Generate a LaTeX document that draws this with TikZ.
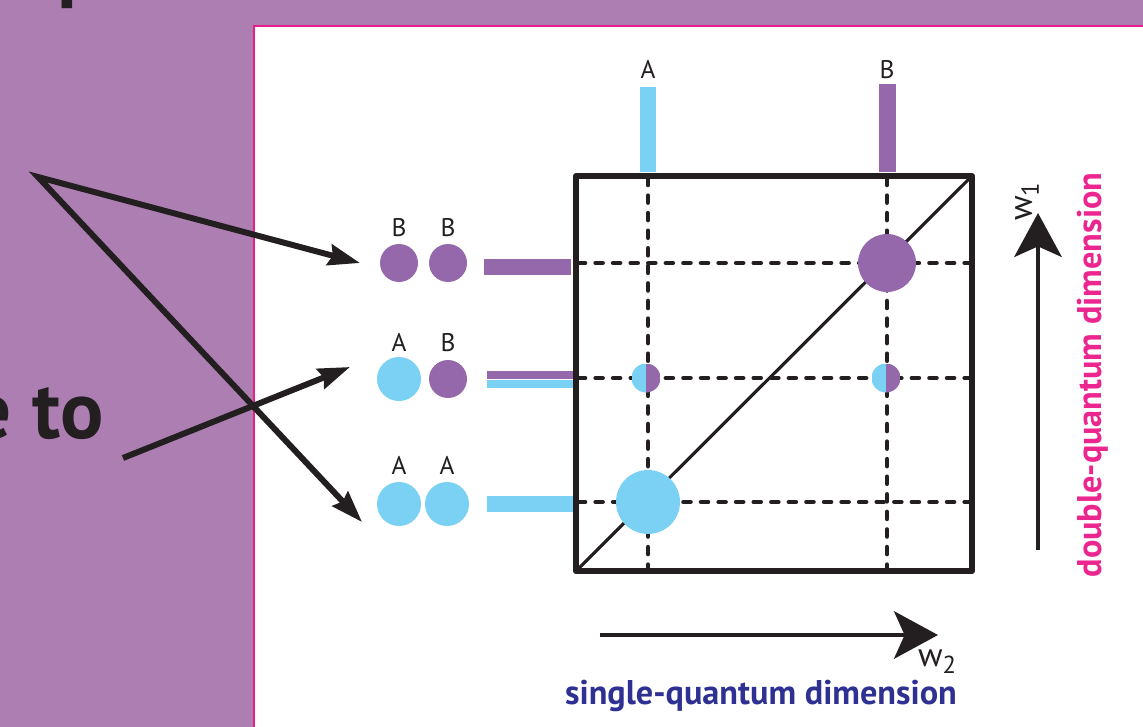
\documentclass[tikz,border=0pt]{standalone}
\usepackage{fontspec}
\setmainfont{PT Sans}
\usetikzlibrary{positioning,arrows.meta}

\definecolor{mauve}{RGB}{173,126,178}
\definecolor{panelpink}{RGB}{231,30,140}
\definecolor{specA}{RGB}{122,209,244}
\definecolor{specB}{RGB}{149,104,172}
\definecolor{ink}{RGB}{35,31,32}
\definecolor{dqpink}{RGB}{236,38,143}
\definecolor{sqblue}{RGB}{46,49,146}

\begin{document}
\begin{tikzpicture}[
    x=0.2mm, y=-0.2mm,
    font=\fontsize{14.5}{16}\selectfont,
    atom/.style={circle, inner sep=0pt, minimum size=#1},
    atomA/.style={atom=8.8mm, fill=specA},
    atomB/.style={atom=7.6mm, fill=specB},
    halfpeak/.style={atom=5.8mm, path picture={
        \fill[specA] (path picture bounding box.south west) rectangle (path picture bounding box.north);
        \fill[specB] (path picture bounding box.south) rectangle (path picture bounding box.north east);}},
    bar/.style={rectangle, inner sep=0pt},
    lbl/.style={text=ink, inner sep=0pt},
    frame/.style={draw=ink, line width=3.4pt, line join=round},
    gridline/.style={draw=ink, line width=2.6pt, line cap=round, dash pattern=on 4pt off 6pt},
    pointer/.style={draw=ink, line width=3.4pt, >={Stealth[length=18pt, width=12pt, inset=2pt]}},
    axis/.style={draw=ink, line width=2.3pt, -{Stealth[length=25pt, width=27pt, inset=6pt]}},
    heading/.style={font=\fontsize{46}{50}\selectfont\bfseries, text=ink, inner sep=0pt},
    dimtext/.style={font=\fontsize{19.5}{22}\selectfont\bfseries, inner sep=0pt},
    wlbl/.style={lbl, font=\fontsize{19}{20}\selectfont}
]
\useasboundingbox (0,0) rectangle (1143,727);

% ===== Background and panel =====
\fill[mauve] (0,0) rectangle (1143,727);
\draw[draw=panelpink, line width=1.3pt, fill=white] (254,26) rectangle (1160,740);

% ===== Heading fragments (left) =====
\begin{scope}
\clip (60,0) rectangle (78,10);
\node[heading, anchor=base west] (headtop) at (57,-7) {p};
\end{scope}
\node[heading, anchor=base east] (headto) at (104,438) {e to};

% ===== Spectrum frame =====
\coordinate (ll) at (576,571);
\coordinate (ur) at (972,176);
\foreach \x in {648,887}
    \draw[gridline] (\x,178) -- (\x,578);
\foreach \y in {263,378,502}
    \draw[gridline] (578,\y) -- (981,\y);
\draw[frame] (ll) rectangle (ur);
\draw[ink, line width=1.8pt] (ll) -- (ur);

% ===== Peaks =====
\node[atom=11.6mm, fill=specB] (peakBB) at (887,263) {};
\node[atom=12.8mm, fill=specA] (peakAA) at (648,502) {};
\node[halfpeak] (crossL) at (646,378) {};
\node[halfpeak] (crossR) at (886,378) {};

% ===== 1D projections (top) =====
\node[bar, fill=specA, minimum width=3.2mm, minimum height=17mm, anchor=south] (barA) at (648,172) {};
\node[bar, fill=specB, minimum width=3.4mm, minimum height=17.6mm, anchor=south] (barB) at (887,172) {};
\node[lbl, above=1.4mm of barA] (lblA) {A};
\node[lbl, above=0.8mm of barB] (lblB) {B};

% ===== Spin pairs (left) =====
\node[atomB] (bb1) at (399,263) {};
\node[atomB] (bb2) at (448,263) {};
\node[lbl, above=1.4mm of bb1] (bb1lbl) {B};
\node[lbl, above=1.4mm of bb2] (bb2lbl) {B};
\node[bar, fill=specB, minimum width=17.4mm, minimum height=3.2mm, anchor=east] (lineBB) at (571,267) {};

\node[atomA] (ab1) at (399,379) {};
\node[atomB] (ab2) at (448,379) {};
\node[lbl, above=1mm of ab1] (ab1lbl) {A};
\node[lbl, above=1.6mm of ab2] (ab2lbl) {B};
\node[bar, fill=specB, minimum width=17.2mm, minimum height=1.6mm, anchor=south east] (lineAB1) at (573,379) {};
\node[bar, fill=specA, minimum width=17.2mm, minimum height=1.5mm, anchor=north east] (lineAB2) at (573,380) {};

\node[atomA] (aa1) at (399,504) {};
\node[atomA] (aa2) at (447,504) {};
\node[lbl, above=1.4mm of aa1] (aa1lbl) {A};
\node[lbl, above=1.4mm of aa2] (aa2lbl) {A};
\node[bar, fill=specA, minimum width=17.2mm, minimum height=3.2mm, anchor=east] (lineAA) at (573,504) {};

% ===== Pointers =====
\coordinate (fork) at (38,177);
\coordinate (tipBB) at (360,263);
\coordinate (tipAA) at (362,522);
\coordinate (tail) at (123,458);
\coordinate (tipAB) at (350,367);
\draw[pointer, <->] (tipBB) -- (fork) -- (tipAA);
\draw[pointer, ->] (tail) -- (tipAB);

% ===== Axes =====
\coordinate (w1from) at (1038,550);
\coordinate (w1to) at (1038,213);
\coordinate (w2from) at (600,635);
\coordinate (w2to) at (938,635);
\draw[axis] (w1from) -- (w1to);
\draw[axis] (w2from) -- (w2to);
\node[wlbl, rotate=90] (w1lbl) at (1027,202) {w\raisebox{-4pt}{\fontsize{14}{14}\selectfont 1}};
\node[wlbl] (w2lbl) at (937,662) {w\raisebox{-4pt}{\fontsize{14}{14}\selectfont 2}};

% ===== Dimension labels =====
\node[dimtext, text=sqblue, anchor=base] (sqlbl) at (761,704) {single-quantum dimension};
\node[dimtext, text=dqpink, rotate=90] (dqlbl) at (1093,375) {double-quantum dimension};

\end{tikzpicture}
\end{document}
